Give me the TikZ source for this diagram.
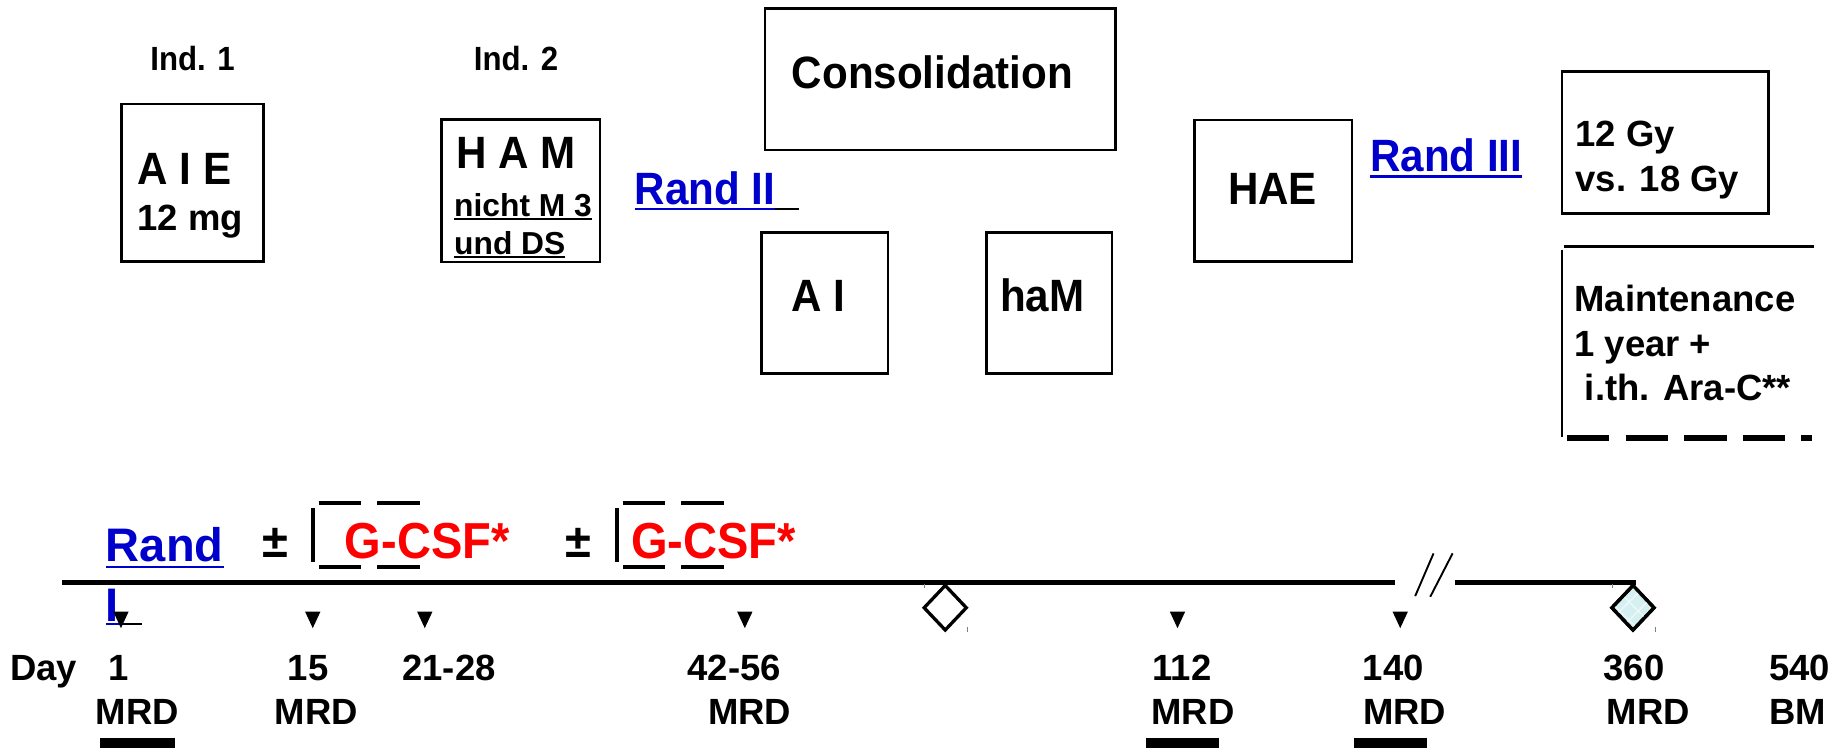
\documentclass[tikz,border=0pt]{standalone}
\usepackage{fontspec}
\setmainfont{Liberation Sans}
\newfontfamily\narrowfont{Liberation Sans}[FakeStretch=0.93]
\usetikzlibrary{shapes.geometric,patterns.meta}
\definecolor{linkblue}{RGB}{0,0,204}
\definecolor{gred}{RGB}{255,0,0}
\definecolor{paleaqua}{RGB}{214,240,242}
\newcommand\fsz[1]{\fontsize{#1}{#1}\selectfont\bfseries}
\newcommand\nfsz[1]{\narrowfont\fontsize{#1}{#1}\selectfont\bfseries}
\begin{document}
\begin{tikzpicture}[x=1pt,y=-1pt,
  box/.style={draw,line width=2.2pt,inner sep=0,outer sep=0},
  txt/.style={inner sep=0,outer sep=0,anchor=base west},
  ctxt/.style={inner sep=0,outer sep=0,anchor=base},
  big/.style={font=\nfsz{38.5}},
  mid/.style={font=\fsz{31}},
  sml/.style={font=\fsz{27}},
  indf/.style={font=\nfsz{28.5}},
  link/.style={text=linkblue},
  ulblue/.style={draw=linkblue,line width=2.2pt},
  ulblack/.style={draw=black,line width=1.8pt},
  timeline/.style={line width=4.2pt},
  brk/.style={line width=3.8pt},
  tick/.style={draw=gray,line width=0.8pt},
  tri/.style={isosceles triangle,isosceles triangle stretches,shape border rotate=-90,
     fill=black,inner sep=0,outer sep=0,minimum height=14pt,minimum width=13pt},
  diam/.style={diamond,draw,line width=2.8pt,fill=white,inner sep=0,
     minimum width=37pt,minimum height=39pt},
  mrdbar/.style={fill=black},
  ]
\useasboundingbox (0,0) rectangle (1568,636);

% ---------- top boxes ----------
\node[box,minimum width=120.5pt,minimum height=134pt] (aie) at (163.75,155.4) {};
\node[box,minimum width=134.6pt,minimum height=121.3pt] (ham) at (442.7,162) {};
\node[box,minimum width=297.8pt,minimum height=120.5pt] (cons) at (798.9,67.25) {};
\node[box,minimum width=107.7pt,minimum height=119.8pt] (ai) at (700.85,257.4) {};
\node[box,minimum width=106.7pt,minimum height=119.8pt] (haM) at (891.65,257.4) {};
\node[box,minimum width=134pt,minimum height=120.4pt] (hae) at (1082,162.2) {};
\node[box,minimum width=175.3pt,minimum height=120.3pt] (gy) at (1415.15,121.15) {};

% ---------- top texts ----------
\node[ctxt,indf] (ind1) at (163.6,60) {Ind. 1};
\node[ctxt,indf] (ind2) at (438.6,60) {Ind. 2};
\node[txt,big] (aietxt) at (117,156.4) {A I E};
\node[txt,mid] (mgtxt) at (117,195.5) {12 mg};
\node[txt,big] (hamtxt) at (388,143) {H A M};
\node[txt,sml] (nicht) at (386,183.6) {nicht M 3};
\node[txt,sml] (unds) at (386,216) {und DS};
\draw[ulblack] ([yshift=-2.3pt]nicht.base west) -- ([yshift=-2.3pt]nicht.base east);
\draw[ulblack] ([yshift=-2.3pt]unds.base west) -- ([yshift=-2.3pt]unds.base east);

\node[txt,big,link] (rand2) at (539.5,174) {Rand II};
\coordinate (rand2end) at (678.7,177.6);
\draw[ulblue] ([yshift=-3.6pt]rand2.base west) -- ([yshift=-3.6pt]rand2.base east);
\draw[ulblack] ([yshift=-3.6pt]rand2.base east) -- (rand2end);

\node[txt,big] (constxt) at (673,75) {Consolidation};
\node[txt,big] (aitxt) at (673,265) {A I};
\node[txt,big] (haMtxt) at (850,265) {haM};
\node[ctxt,big] (haetxt) at (1081.5,174) {HAE};

\node[txt,big,link] (rand3) at (1164.5,146) {Rand III};
\draw[ulblue] ([yshift=-4pt]rand3.base west) -- ([yshift=-4pt]rand3.base east);

\node[txt,mid] (gy12) at (1339,124.7) {12 Gy};
\node[txt,mid] (gy18) at (1339,163) {vs. 18 Gy};

% maintenance open box
\coordinate (mtl) at (1329,209.7);
\coordinate (mtr) at (1542,209.7);
\coordinate (mlt) at (1327.5,212.5);
\coordinate (mlb) at (1327.5,371);
\coordinate (mbl) at (1331.7,372.6);
\coordinate (mbr) at (1540,372.6);
\draw[line width=2.6pt] (mtl) -- (mtr);
\draw[line width=2.4pt] (mlt) -- (mlb);
\draw[line width=5pt,dash pattern=on 36pt off 13.8pt] (mbl) -- (mbr);
\node[txt,mid] (maint) at (1338,265) {Maintenance};
\node[txt,mid] (year) at (1338,302.6) {1 year +};
\node[txt,mid] (arac) at (1347,340) {i.th. Ara-C**};

% ---------- timeline ----------
\coordinate (tlA) at (52.9,495.3);
\coordinate (tlB) at (1185.4,495.3);
\coordinate (tlC) at (1236.3,495.3);
\coordinate (tlD) at (1390,495.3);
\draw[timeline] (tlA) -- (tlB);
\draw[timeline] (tlC) -- (tlD);
\draw[line width=1.6pt] (1202.7,506.6) -- (1218.3,470.3);
\draw[line width=1.6pt] (1215.5,507.2) -- (1234.5,470.3);

\node[diam] (d1) at (803.3,516.5) {};
\node[diam,fill=paleaqua,postaction={pattern={Hatch[distance=11pt,angle=45,line width=1pt]},pattern color=white!60!paleaqua}] (d2) at (1387.8,516.5) {};
\node[diam,fill=none] (d2b) at (1387.8,516.5) {};
% tiny corner ticks
\draw[tick] (785.4,496.5) -- (785.4,500);
\draw[tick] (821.8,533) -- (821.8,537);
\draw[tick] (1370,496.5) -- (1370,500);
\draw[tick] (1406.7,533) -- (1406.7,537);

% Rand I
\node[txt,link,font=\fsz{40}] (rand1) at (90,477.4) {Rand};
\draw[ulblue] ([yshift=-4.4pt]rand1.base west) -- ([yshift=-4.4pt]rand1.base east);
\node[txt,link,font=\fsz{40}] (rand1b) at (90,528.4) {I};
\coordinate (rand1end) at (120.6,530.4);
\draw[ulblue] ([yshift=-2pt]rand1b.base west) -- ([yshift=-2pt]rand1b.base east);
\draw[ulblack] ([yshift=-2pt]rand1b.base east) -- (rand1end);

% G-CSF groups
\node[txt,font=\fsz{40}] (pm1) at (223,474) {±};
\draw[brk] (265.8,432) -- (265.8,477.4);
\draw[brk] (270.7,427.3) -- (307,427.3);
\draw[brk] (320.4,427.3) -- (357,427.3);
\draw[brk] (270.7,481.7) -- (307,481.7);
\draw[brk] (320.4,481.7) -- (357,481.7);
\node[txt,font=\nfsz{43},text=gred] (gcsf1) at (293,475) {G-CSF*};

\node[txt,font=\fsz{40}] (pm2) at (481,474) {±};
\draw[brk] (524.5,432) -- (524.5,477.4);
\draw[brk] (529.3,427.3) -- (565,427.3);
\draw[brk] (579,427.3) -- (614.9,427.3);
\draw[brk] (529.3,481.7) -- (565,481.7);
\draw[brk] (579,481.7) -- (614.9,481.7);
\node[txt,font=\nfsz{43},text=gred] (gcsf2) at (536.5,475) {G-CSF*};

% triangles
\node[tri] (t1) at (102.8,524) {};
\node[tri] (t2) at (265.8,524) {};
\node[tri] (t3) at (361,524) {};
\node[tri] (t4) at (633,524) {};
\node[tri] (t5) at (1000.7,524) {};
\node[tri] (t6) at (1190,524) {};

% day row
\node[txt,mid] (day) at (8.7,578) {Day};
\node[ctxt,mid] (n1) at (100.5,578) {1};
\node[ctxt,mid] (n15) at (261.8,578) {15};
\node[ctxt,mid] (n21) at (381.6,578) {21-28};
\node[ctxt,mid] (n42) at (624,578) {42-56};
\node[ctxt,mid] (n112) at (1004.5,578) {112};
\node[ctxt,mid] (n140) at (1184,578) {140};
\node[ctxt,mid] (n360) at (1388.6,578) {360};
\node[ctxt,mid] (n540) at (1529.6,578) {540};

% MRD row
\node[ctxt,mid] (m1) at (116.6,616) {MRD};
\node[ctxt,mid] (m2) at (268.8,616) {MRD};
\node[ctxt,mid] (m3) at (637,616) {MRD};
\node[ctxt,mid] (m4) at (1013.8,616) {MRD};
\node[ctxt,mid] (m5) at (1193.8,616) {MRD};
\node[ctxt,mid] (m6) at (1400.8,616) {MRD};
\node[ctxt,mid] (bm) at (1527.7,616) {BM};

% bars
\fill[mrdbar] (84.6,627) rectangle (148.3,636);
\fill[mrdbar] (973.6,627) rectangle (1036,636);
\fill[mrdbar] (1151,627) rectangle (1213,636);
\end{tikzpicture}
\end{document}
